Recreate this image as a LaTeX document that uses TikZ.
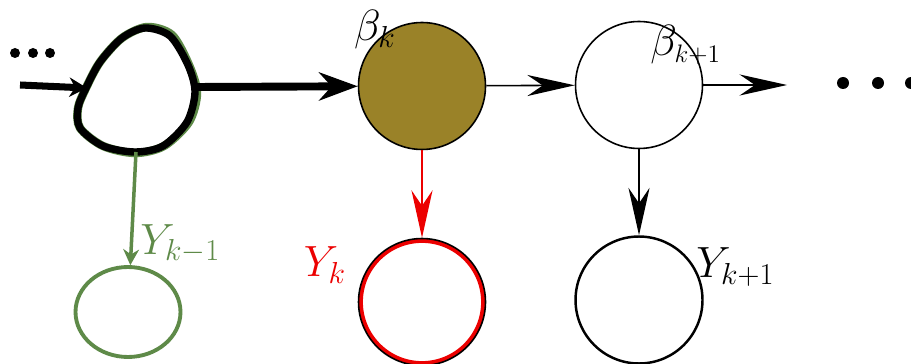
\documentclass[tikz,border=0pt]{standalone}
\usepackage{tikz}
\usetikzlibrary{arrows.meta,shapes.geometric}
\definecolor{betabrown}{RGB}{154,130,40}
\definecolor{obsgreen}{RGB}{94,138,72}
\definecolor{obsred}{RGB}{236,0,0}

\begin{document}
\begin{tikzpicture}[x=0.02cm,y=-0.02cm,
    state/.style={circle,draw,line width=0.9pt,inner sep=0pt,minimum size=2.54cm},
    lab/.style={font=\fontsize{27}{30}\selectfont,inner sep=0pt},
    thinarrow/.style={line width=0.9pt,-{Stealth[length=27pt,width=12pt]}}]
    \useasboundingbox (0,0) rectangle (911,364);
    \fill (15,53) circle (5) (33,53) circle (5) (50,53) circle (5);
    \fill (843,83) circle (6) (878,83) circle (6) (911,83) circle (6);
    \node[circle,minimum size=2.45cm] (s1) at (137,90) {};
    \coordinate (s1w) at (87,88);
    \coordinate (s1e) at (195,87);
    \coordinate (s1s) at (136,152);
    \coordinate (in) at (20,85);
    \draw[obsgreen,line width=4.8pt] plot[smooth cycle] coordinates {(147,27) (172,35) (189,65) (197,93) (189,122) (164,146) (135,153) (103,146) (80,128) (78,108) (86,88) (100,62) (122,38)};
    \draw[line width=4.2pt] plot[smooth cycle] coordinates {(145,28) (170,36) (188,65) (195,92) (187,122) (163,146) (135,152) (103,146) (80,128) (78,108) (86,88) (100,62) (122,38)};
    \node[state,fill=betabrown] (s2) at (422,86) {};
    \node[state] (s3) at (639,85) {};
    \coordinate (out) at (787,85);
    \node[ellipse,draw=obsgreen,line width=2.2pt,minimum width=2.1cm,minimum height=1.8cm] (y1) at (128,312) {};
    \node[state,path picture={\draw[obsred,line width=5pt] (path picture bounding box.center) circle [radius=1.27cm];}] (y2) at (422,302) {};
    \node[state,line width=1.4pt] (y3) at (639,300) {};
    \draw[line width=4pt,-{Stealth[length=10pt,width=11pt]}] (in) -- (s1w);
    \draw[line width=4.5pt,-{Stealth[length=22pt,width=16pt]}] (s1e) -- (s2);
    \draw[obsgreen,line width=2pt,-{Stealth[length=9pt,width=9pt]}] (s1s) -- (y1);
    \draw[thinarrow] (s2) -- (s3);
    \draw[thinarrow] (s3) -- (out);
    \draw[thinarrow,obsred] (s2) -- (y2);
    \draw[thinarrow] (s3) -- (y3);
    \node[lab] (lb2) at (375,30) {$\beta_k$};
    \node[lab,anchor=west] (lb3) at (650,45) {$\beta_{\scriptscriptstyle k+1}$};
    \node[lab,obsgreen,anchor=west] (ly1) at (140,244) {$Y_{k-1}$};
    \node[lab,obsred] (ly2) at (325,265) {$Y_k$};
    \node[lab,anchor=west] (ly3) at (696,267) {$Y_{k+1}$};
\end{tikzpicture}
\end{document}
